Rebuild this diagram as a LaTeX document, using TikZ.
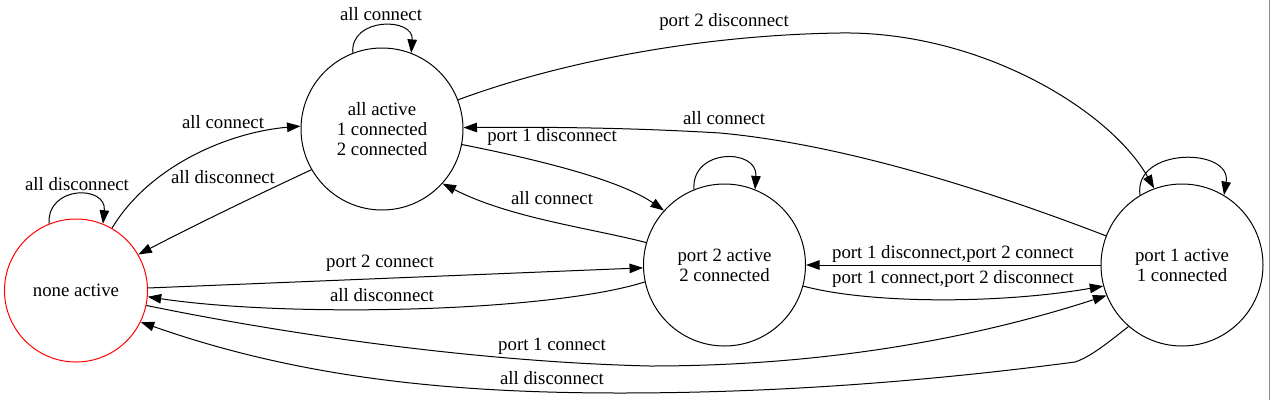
\documentclass[tikz,border=0pt]{standalone}
\usepackage{fontspec}
\setmainfont{Liberation Serif}
\usetikzlibrary{arrows.meta}
\begin{document}
\begin{tikzpicture}[x=1pt,y=-1pt,
  txt/.style={font=\fontsize{18.8}{20}\selectfont},
  state/.style={circle,draw,line width=1pt,minimum size=162pt,inner sep=0pt,align=center,txt},
  lbl/.style={inner sep=0pt,txt},
  edge/.style={line width=1pt,-{Triangle[length=13.5pt,width=9.5pt]}}]
\useasboundingbox (0,0) rectangle (1270,400);
\draw[black!45,line width=1pt] (1269.5,0) -- (1269.5,400);

\node[state,draw=red,minimum size=143pt] (none) at (76,290.5) {none active};
\node[state] (all) at (382,129) {all active\\1 connected\\2 connected};
\node[state] (p2) at (724.5,265) {port 2 active\\2 connected};
\node[state] (p1) at (1182,265) {port 1 active\\1 connected};

\draw[edge] (none.60) .. controls (150,165) and (230,132) .. (all.178);
\draw[edge] (all.210) .. controls (255,196) and (195,225) .. (none.30);
\draw[edge] (none.112) .. controls (47,185) and (107,185) .. (none.68);
\draw[edge] (all.111) .. controls (350,17) and (414,17) .. (all.69);
\draw[edge] (all.349) .. controls (540,160) and (620,180) .. (p2.138);
\draw[edge] (p2.164) .. controls (590,228) and (510,218) .. (all.318);
\draw[edge] (all.21) .. controls (560,62) and (700,35) .. (840,33) .. controls (980,31) and (1110,110) .. (p1.110);
\draw[edge] (p1.159) .. controls (1000,195) and (850,145) .. (720,133) .. controls (620,127) and (530,127) .. (all.1);
\draw[edge] (none.2) -- (p2.182);
\draw[edge] (p2.192) .. controls (550,312) and (290,318) .. (none.355);
\draw[edge] (none.348) .. controls (290,335) and (480,362) .. (650,366) .. controls (850,366) and (1000,330) .. (p1.202);
\draw[edge] (p1.229) .. controls (1105,345) and (1090,357) .. (1075,362) .. controls (900,385) and (750,393) .. (620,393) .. controls (450,393) and (300,378) .. (none.334);
\draw[edge] (p1.180) -- (p2.0);
\draw[edge] (p2.345) .. controls (870,304) and (1000,304) .. (p1.195);
\draw[edge] (p2.112) .. controls (691,148) and (758,148) .. (p2.68);
\draw[edge] (p1.121) .. controls (1133,147) and (1232,147) .. (p1.59);

\node[lbl] (l1) at (223,122) {all connect};
\node[lbl] (l2) at (223,177) {all disconnect};
\node[lbl] (l3) at (77,184) {all disconnect};
\node[lbl] (l4) at (381,14) {all connect};
\node[lbl] (l5) at (552,137) {port 1 disconnect};
\node[lbl] (l6) at (552,198) {all connect};
\node[lbl] (l7) at (724,22) {port 2 disconnect};
\node[lbl] (l8) at (724,118) {all connect};
\node[lbl] (l9) at (380,263) {port 2 connect};
\node[lbl] (l10) at (382,295) {all disconnect};
\node[lbl] (l11) at (552,346) {port 1 connect};
\node[lbl] (l12) at (552,378) {all disconnect};
\node[lbl] (l13) at (953,254) {port 1 disconnect,port 2 connect};
\node[lbl] (l14) at (953,279) {port 1 connect,port 2 disconnect};
\end{tikzpicture}
\end{document}
